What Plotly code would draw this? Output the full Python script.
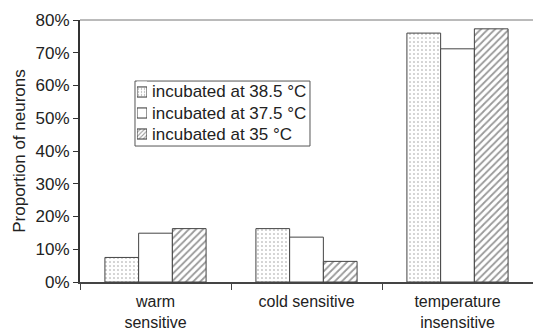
import plotly.graph_objects as go

categories = ["warm<br>sensitive", "cold sensitive", "temperature<br>insensitive"]
series_names = ["incubated at 38.5 °C", "incubated at 37.5 °C", "incubated at 35 °C"]
values_385 = [0.075, 0.163, 0.760]
values_375 = [0.149, 0.137, 0.712]
values_35 = [0.163, 0.063, 0.773]
y_ticks = [0, 0.1, 0.2, 0.3, 0.4, 0.5, 0.6, 0.7, 0.8]

FONT = "Liberation Sans, Arial, sans-serif"
TXT = "#222222"
pattern_shapes = [".", "", "/"]
pattern_sizes = [4, 8, 5]
pattern_solid = [0.12, 0.1, 0.35]

fig = go.Figure()
for name, vals, sh, sz, so in zip(series_names, [values_385, values_375, values_35],
                                  pattern_shapes, pattern_sizes, pattern_solid):
    fig.add_trace(go.Bar(
        x=categories, y=vals, name=name, showlegend=False,
        marker=dict(color="#ffffff",
                    pattern=dict(shape=sh, fgcolor="#333333", bgcolor="#ffffff", size=sz, solidity=so),
                    line=dict(color="#444444", width=1)),
    ))

# Legend (drawn manually to match the compact box of the original)
fig.add_trace(go.Bar(
    x=[1, 1, 1], y=series_names, orientation="h", width=0.48,
    xaxis="x2", yaxis="y2", showlegend=False, hoverinfo="skip",
    marker=dict(color="#ffffff",
                pattern=dict(shape=pattern_shapes, fgcolor="#333333", bgcolor="#ffffff",
                             size=[3, 8, 3], solidity=[0.15, 0.1, 0.35]),
                line=dict(color="#333333", width=1)),
))

annotations = []
for i, name in enumerate(series_names):
    annotations.append(dict(
        text=name, xref="paper", yref="paper", x=0.1545, y=0.7252 - i * 0.0802,
        xanchor="left", yanchor="middle", showarrow=False,
        font=dict(family=FONT, size=17, color=TXT),
    ))

fig.update_layout(
    width=533, height=334,
    margin=dict(l=80, r=0, t=20, b=52, autoexpand=False),
    paper_bgcolor="white", plot_bgcolor="white",
    font=dict(family=FONT, size=17, color=TXT),
    barmode="group", bargap=0.33, bargroupgap=0,
    showlegend=False,
    xaxis=dict(
        type="category", showline=True, linecolor="#444444", linewidth=2,
        ticks="outside", tickson="boundaries", ticklen=6,
        tickcolor="#444444", showgrid=False, ticklabelstandoff=4,
        automargin=False, tickfont=dict(size=16),
    ),
    yaxis=dict(
        range=[0, 0.8], tickvals=y_ticks, tickformat=".0%",
        showline=True, linecolor="#333333", linewidth=2,
        ticks="outside", ticklen=5, tickcolor="#333333", showgrid=False,
        title=dict(text="Proportion of neurons", font=dict(size=17), standoff=6),
        zeroline=False, automargin=False,
    ),
    xaxis2=dict(domain=[0.1258, 0.1479], range=[0, 1], anchor="y2", visible=False, fixedrange=True),
    yaxis2=dict(domain=[0.5248, 0.7653], anchor="x2", visible=False, autorange="reversed",
                type="category", fixedrange=True),
    shapes=[
        dict(type="line", xref="paper", yref="paper", x0=0, x1=1, y0=1, y1=1,
             line=dict(color="#777777", width=1)),
        dict(type="rect", xref="paper", yref="paper", x0=0.1214, x1=0.5077, y0=0.519, y1=0.767,
             line=dict(color="#555555", width=1), fillcolor="white", layer="below"),
    ],
    annotations=annotations,
)

fig.write_html("out.html")
